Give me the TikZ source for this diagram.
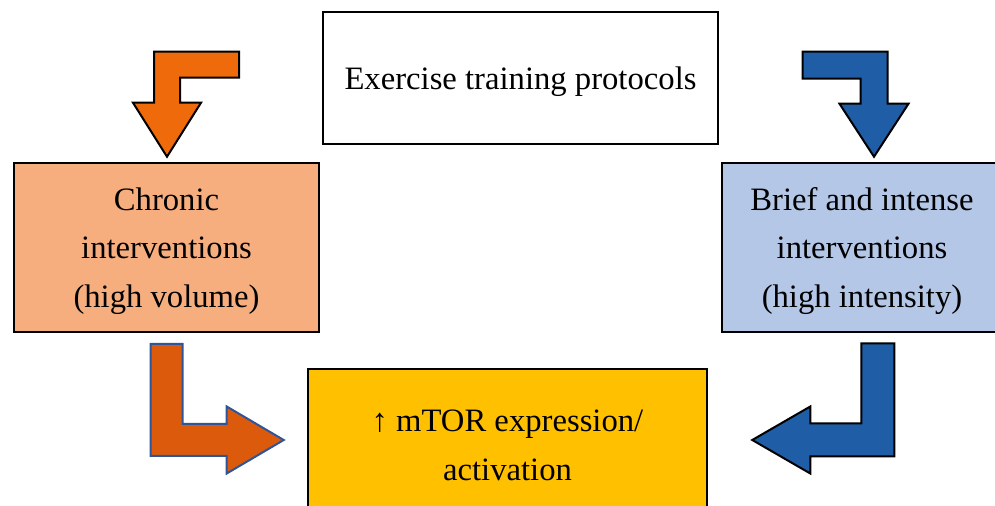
\documentclass[tikz,border=0pt]{standalone}
\usepackage{fontspec}
\setmainfont{Liberation Serif}
\usetikzlibrary{positioning, calc}
\definecolor{peach}{HTML}{F6AE7F}
\definecolor{paleblue}{HTML}{B4C7E7}
\definecolor{amber}{HTML}{FFC000}
\definecolor{tangerine}{HTML}{EE6A0A}
\definecolor{rust}{HTML}{DC5A0C}
\definecolor{royal}{HTML}{1F5EA6}
\definecolor{navyline}{HTML}{2F5597}
\tikzset{%
  box/.style={draw, line width=1.9pt, align=center, text depth=-1pt, font=\fontsize{24.5}{36.5}\selectfont},
  wb/.style={box, fill=white},
  ob/.style={box, fill=peach},
  bb/.style={box, fill=paleblue},
  yb/.style={box, fill=amber},
  barrow/.style={line width=1.5pt, line join=miter}
}
% bent block arrow, tip at origin pointing down: style, A, B, s, h, L
\newcommand{\bent}[6]{%
  \draw[#1] (0,0) -- (-#5,#6) -- (-#4,#6) -- (-#4,#2) -- ({-#4+#3},#2)
    -- ({-#4+#3},{#2-2*#4}) -- (#4,{#2-2*#4}) -- (#4,#6) -- (#5,#6) -- cycle;}

\begin{document}
\begin{tikzpicture}[x=0.75pt, y=0.75pt]
  \useasboundingbox (0,0) rectangle (995,506);
  \clip (0,0) rectangle (995,506);
  \node[wb, minimum width=296pt,    minimum height=99pt]     (protocols) at (520.5,428) {Exercise training protocols};
  \node[ob, minimum width=228.75pt, minimum height=126.75pt] (chronic)   at (166.5,258.5) {Chronic\\interventions\\(high volume)};
  \node[bb, minimum width=210pt,    minimum height=126.75pt] (brief)     at (862,258.5) {Brief and intense\\interventions\\(high intensity)};
  \node[yb, minimum width=299.25pt, minimum height=114pt]    (mtor)      at (507.5,61) {↑ mTOR expression/\\activation};
  % block arrows
  \begin{scope}[shift={($(chronic.north)+(0.5,5)$)}]
    \bent{barrow, fill=tangerine}{105}{85}{13}{34}{54}
  \end{scope}
  \begin{scope}[shift={($(brief.north)+(12,5)$)}, xscale=-1]
    \bent{barrow, fill=royal}{105}{85}{13.5}{34.5}{53}
  \end{scope}
  \begin{scope}[shift={($(mtor.west)+(-23,5)$)}, rotate=90]
    \bent{barrow, draw=navyline, fill=rust}{133}{112}{16}{33.5}{57}
  \end{scope}
  \begin{scope}[shift={($(mtor.east)+(44,5)$)}, xscale=-1, rotate=90]
    \bent{barrow, fill=royal}{142}{113}{16.5}{33.5}{58}
  \end{scope}
\end{tikzpicture}
\end{document}
